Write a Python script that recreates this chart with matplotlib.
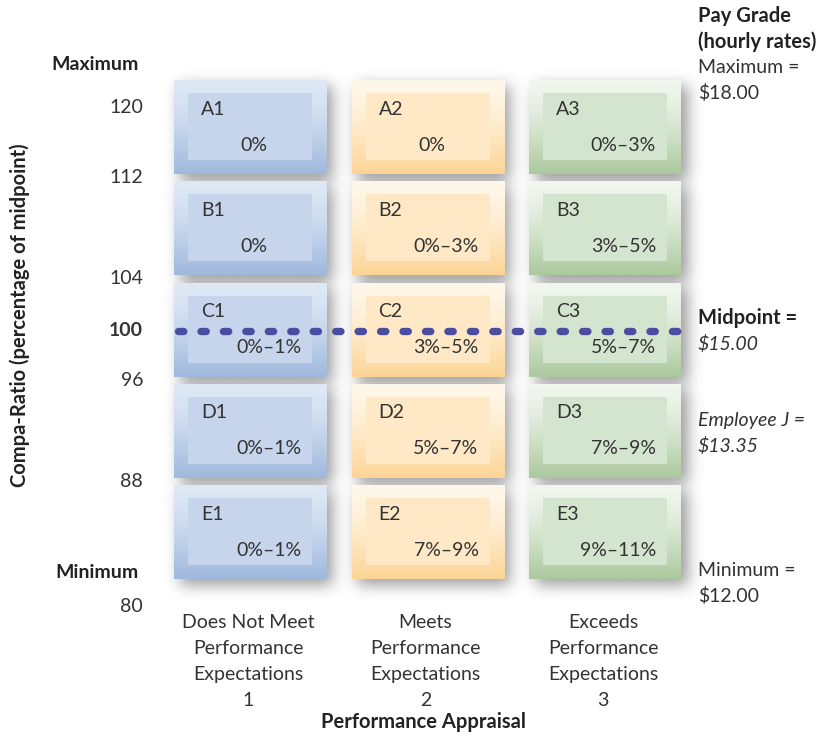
import numpy as np
import matplotlib.pyplot as plt
from matplotlib.patches import Rectangle
from matplotlib.colors import to_rgb

plt.rcParams["font.family"] = ["Lato", "DejaVu Sans"]

# --- data -------------------------------------------------------------
grade_rows = ["A", "B", "C", "D", "E"]
perf_cols = [1, 2, 3]
increases = [
    ["0%", "0%", "0%\u20133%"],
    ["0%", "0%\u20133%", "3%\u20135%"],
    ["0%\u20131%", "3%\u20135%", "5%\u20137%"],
    ["0%\u20131%", "5%\u20137%", "7%\u20139%"],
    ["0%\u20131%", "7%\u20139%", "9%\u201311%"],
]
perf_labels = [
    ["Does Not Meet", "Performance", "Expectations"],
    ["Meets", "Performance", "Expectations"],
    ["Exceeds", "Performance", "Expectations"],
]
ratio_ticks = [120, 112, 104, 100, 96, 88, 80]
# where each tick sits, in row units (0 = top of row A)
ratio_tick_rows = [0.27, 0.96, 1.96, 2.47, 2.97, 3.96, 5.2]
midpoint_ratio = 100

# right-hand notes: (text, weight, style)
pay_notes = [
    [("Pay Grade", "bold", "normal"), ("(hourly rates)", "bold", "normal"),
     ("Maximum =", "normal", "normal"), ("$18.00", "normal", "normal")],
    [("Midpoint =", "bold", "normal"), ("$15.00", "normal", "italic")],
    [("Employee J =", "normal", "italic"), ("$13.35", "normal", "italic")],
    [("Minimum =", "normal", "normal"), ("$12.00", "normal", "normal")],
]

# colours per column: (gradient top, gradient bottom, inner panel)
col_colors = [
    ("#dfe9f6", "#9fb8dd", "#c6d4ec"),
    ("#fff8ea", "#fdd496", "#fee8c5"),
    ("#f1f7ee", "#abc99d", "#d4e5cf"),
]

W, H = 830, 737
X0, Y0 = 174, 80          # top-left of box A1
COL_STEP, ROW_STEP = 177.5, 101.3
BOX_W, BOX_H = 152, 94
INSET = 14
FS = 14
TXT = "#333333"
BTXT = "#222222"
LINE = 25.5


def row_y(r):
    return Y0 + r * ROW_STEP


def col_x(c):
    return X0 + c * COL_STEP


fig = plt.figure(figsize=(W / 100, H / 100), dpi=100)
ax = fig.add_axes([0, 0, 1, 1])

# soft drop shadow behind the boxes
mask = np.zeros((H, W))
dx, dy = 6, 6
for r in range(len(grade_rows)):
    for c in range(len(perf_cols)):
        x0, y0 = int(col_x(c)) + dx, int(row_y(r)) + dy
        mask[y0:y0 + BOX_H, x0:x0 + BOX_W] = 1.0
sig = 7.5
k = np.arange(-3 * int(sig), 3 * int(sig) + 1)
kern = np.exp(-k**2 / (2 * sig**2))
kern /= kern.sum()
mask = np.apply_along_axis(lambda v: np.convolve(v, kern, mode="same"), 0, mask)
mask = np.apply_along_axis(lambda v: np.convolve(v, kern, mode="same"), 1, mask)
shadow = np.zeros((H, W, 4))
shadow[..., :3] = 0.32
shadow[..., 3] = mask * 0.58
ax.imshow(shadow, extent=(0, W, H, 0), zorder=1, interpolation="bilinear")

# boxes
t = np.linspace(0, 1, 64) ** 1.4
for r, g in enumerate(grade_rows):
    for c, p in enumerate(perf_cols):
        top, bot, inner = col_colors[c]
        x0, y0 = col_x(c), row_y(r)
        grad = (1 - t)[:, None] * np.array(to_rgb(top)) + t[:, None] * np.array(to_rgb(bot))
        ax.imshow(grad[:, None, :], extent=(x0, x0 + BOX_W, y0 + BOX_H, y0),
                  aspect="auto", interpolation="bilinear", zorder=2)
        ax.add_patch(Rectangle((x0 + INSET, y0 + 13), BOX_W - 2 * INSET, BOX_H - 27,
                               facecolor=inner, edgecolor="none", zorder=3))
        ax.text(x0 + 27, y0 + 29, f"{g}{p}", fontsize=FS, color=TXT,
                ha="left", va="center", zorder=4)
        pct = increases[r][c]
        if pct == "0%":
            ax.text(x0 + BOX_W / 2 + 4, y0 + 65, pct, fontsize=FS, color=TXT,
                    ha="center", va="center", zorder=4)
        else:
            ax.text(x0 + 127, y0 + 65, pct, fontsize=FS, color=TXT,
                    ha="right", va="center", zorder=4)

# midpoint dotted line
mid_row = ratio_tick_rows[ratio_ticks.index(midpoint_ratio)]
ax.plot([col_x(0) + 4, col_x(2) + BOX_W - 2], [row_y(mid_row) + 1] * 2,
        color="#4b4ea0", lw=5.3, linestyle=(0, (0.72, 2.33)),
        dash_capstyle="round", zorder=5)

# y tick labels
for v, rr in zip(ratio_ticks, ratio_tick_rows):
    ax.text(143, row_y(rr), str(v), fontsize=FS, color=TXT, ha="right",
            va="center", fontweight="bold" if v == midpoint_ratio else "normal")
ax.text(139, 64, "Maximum", fontsize=FS, fontweight="bold", color=BTXT,
        ha="right", va="center")
ax.text(139, 572, "Minimum", fontsize=FS, fontweight="bold", color=BTXT,
        ha="right", va="center")
ax.text(20, 315, "Compa-Ratio (percentage of midpoint)", rotation=90, fontsize=14.5,
        fontweight="bold", color=BTXT, ha="center", va="center")

# x labels
for c, lines in enumerate(perf_labels):
    for i, s in enumerate(lines + [str(perf_cols[c])]):
        ax.text(col_x(c) + BOX_W / 2 - 2, 622 + i * 26.3, s, fontsize=FS,
                color=TXT, ha="center", va="center")
ax.text(423, 722, "Performance Appraisal", fontsize=14.5, fontweight="bold",
        color=BTXT, ha="center", va="center")

# right-hand pay grade notes
rx = 698
note_tops = [16, 318, 420, 571]
for y_top, note in zip(note_tops, pay_notes):
    for i, (s, wt, st) in enumerate(note):
        ax.text(rx, y_top + i * LINE, s, fontsize=14.5 if wt == "bold" else FS,
                fontweight=wt, style=st, color=BTXT if wt == "bold" else TXT,
                ha="left", va="center")

ax.set_xlim(0, W)
ax.set_ylim(H, 0)
ax.set_aspect("auto")
ax.axis("off")

fig.savefig("out.png", dpi=100)
